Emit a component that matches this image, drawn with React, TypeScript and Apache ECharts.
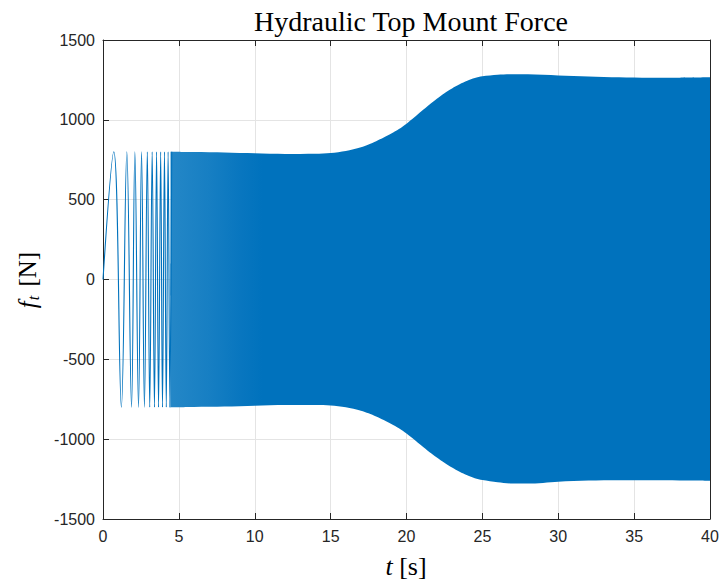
import React, { useEffect, useRef } from "react";
import * as echarts from "echarts";

// Extremum times [s] of the low-frequency start of the force signal, and the force there [N]
const peakTimes = [0, 0.71, 1.21, 1.57, 1.88, 2.1, 2.34, 2.54, 2.73, 2.92, 3.08, 3.24, 3.39, 3.53, 3.66, 3.8, 3.92, 4.05, 4.17, 4.29, 4.41, 4.53];
const peakValues = [0, 800, -800, 800, -800, 800, -800, 800, -800, 800, -800, 800, -800, 800, -800, 800, -800, 800, -800, 800, -800, 800];

// Envelope of the dense high-frequency part [s], [N]
const envTimes = [4.45, 6, 8, 10, 12, 14, 15, 16, 17, 17.5, 18, 18.5, 19, 19.5, 20, 20.5, 21, 21.5, 22, 22.5, 23, 23.5, 24, 24.5, 25, 26, 27, 28, 30, 32, 34, 36, 38, 40];
const envUpper = [800, 798, 795, 790, 786, 787, 792, 805, 828, 845, 866, 889, 914, 942, 976, 1014, 1055, 1095, 1132, 1167, 1197, 1223, 1245, 1262, 1273, 1283, 1286, 1285, 1278, 1272, 1267, 1264, 1264, 1266];
const envLower = [-800, -798, -795, -790, -786, -786, -789, -800, -822, -838, -858, -880, -905, -932, -965, -1002, -1042, -1080, -1115, -1148, -1178, -1204, -1226, -1244, -1256, -1270, -1278, -1278, -1266, -1259, -1257, -1258, -1259, -1260];

const xTicks = { min: 0, max: 40, interval: 5 };
const yTicks = { min: -1500, max: 1500, interval: 500 };

const BLUE = "#0072BD";
const AXIS = "#262626";
const GRID = "#e4e4e4";

export default function App() {
  const ref = useRef<HTMLDivElement>(null);

  useEffect(() => {
    if (!ref.current) return;
    const chart = echarts.init(ref.current, undefined, { renderer: "svg" });

    // opaque colours so the two half-bands meet without a darker overlap
    const bandFill = () =>
      new echarts.graphic.LinearGradient(0, 0, 1, 0, [
        { offset: 0, color: "rgb(36,135,199)" },
        { offset: 0.07, color: "rgb(23,127,195)" },
        { offset: 0.13, color: "rgb(8,118,191)" },
        { offset: 0.17, color: BLUE },
        { offset: 1, color: BLUE },
      ]);

    const tickFont = {
      color: AXIS,
      fontSize: 16,
      fontFamily: "Liberation Sans, Arial, sans-serif",
      formatter: (v: number) => String(v),
    };

    const baseX = {
      type: "value" as const,
      ...xTicks,
      axisLine: { show: true, onZero: false, lineStyle: { color: AXIS, width: 1 } },
      axisTick: { show: true, inside: true, length: 6, lineStyle: { color: AXIS } },
      splitLine: { show: false },
    };
    const baseY = {
      type: "value" as const,
      ...yTicks,
      axisLine: { show: true, onZero: false, lineStyle: { color: AXIS, width: 1 } },
      axisTick: { show: true, inside: true, length: 6, lineStyle: { color: AXIS } },
      splitLine: { show: false },
    };

    const envSeries = (name: string, values: number[], origin: number) => ({
      name,
      type: "line",
      data: envTimes.map((t, i) => [t, values[i]]),
      smooth: 0.3,
      symbol: "none",
      silent: true,
      lineStyle: { width: 0 },
      areaStyle: { color: bandFill(), opacity: 1, origin },
      z: 2,
    });

    chart.setOption({
      animation: false,
      backgroundColor: "#ffffff",
      title: {
        text: "Hydraulic Top Mount Force",
        left: 406,
        textAlign: "center",
        top: 2,
        textStyle: {
          fontFamily: "Liberation Serif, serif",
          fontWeight: "normal",
          fontSize: 28,
          color: "#000000",
        },
      },
      grid: { left: 103, right: 12, top: 40, bottom: 67, containLabel: false },
      xAxis: [
        {
          ...baseX,
          position: "bottom",
          axisLabel: { ...tickFont, margin: 9 },
          splitLine: { show: true, lineStyle: { color: GRID, width: 1 } },
        },
        { ...baseX, position: "top", axisLabel: { show: false } },
      ],
      yAxis: [
        {
          ...baseY,
          position: "left",
          axisLabel: { ...tickFont, margin: 8 },
          splitLine: { show: true, lineStyle: { color: GRID, width: 1 } },
        },
        { ...baseY, position: "right", axisLabel: { show: false } },
      ],
      graphic: [
        {
          type: "text",
          x: 406,
          y: 566,
          style: {
            text: "{i|t} [s]",
            textAlign: "center",
            textVerticalAlign: "middle",
            fontFamily: "Liberation Serif, serif",
            fontSize: 26,
            fill: "#000",
            rich: {
              i: { fontStyle: "italic", fontFamily: "Liberation Serif, serif", fontSize: 26, fill: "#000" },
            },
          },
        },
        {
          type: "text",
          x: 27,
          y: 280,
          rotation: Math.PI / 2,
          style: {
            text: "{i|f}{s|t} [N]",
            textAlign: "center",
            textVerticalAlign: "middle",
            fontFamily: "Liberation Serif, serif",
            fontSize: 25,
            fill: "#000",
            rich: {
              i: { fontStyle: "italic", fontFamily: "Liberation Serif, serif", fontSize: 25, fill: "#000" },
              s: {
                fontStyle: "italic",
                fontFamily: "Liberation Serif, serif",
                fontSize: 16,
                fill: "#000",
                padding: [12, 3, 0, 1],
              },
            },
          },
        },
      ],
      series: [
        envSeries("upper", envUpper, -100),
        envSeries("lower", envLower, 100),
        {
          name: "force",
          type: "line",
          data: peakTimes.map((t, i) => [t, peakValues[i]]),
          smooth: 0.4,
          symbol: "none",
          lineStyle: { color: BLUE, width: 1.1 },
          z: 3,
        },
      ],
    });

    return () => chart.dispose();
  }, []);

  return (
    <div
      ref={ref}
      style={{ position: "fixed", left: 0, top: 0, width: 722, height: 586, background: "#fff" }}
    />
  );
}
